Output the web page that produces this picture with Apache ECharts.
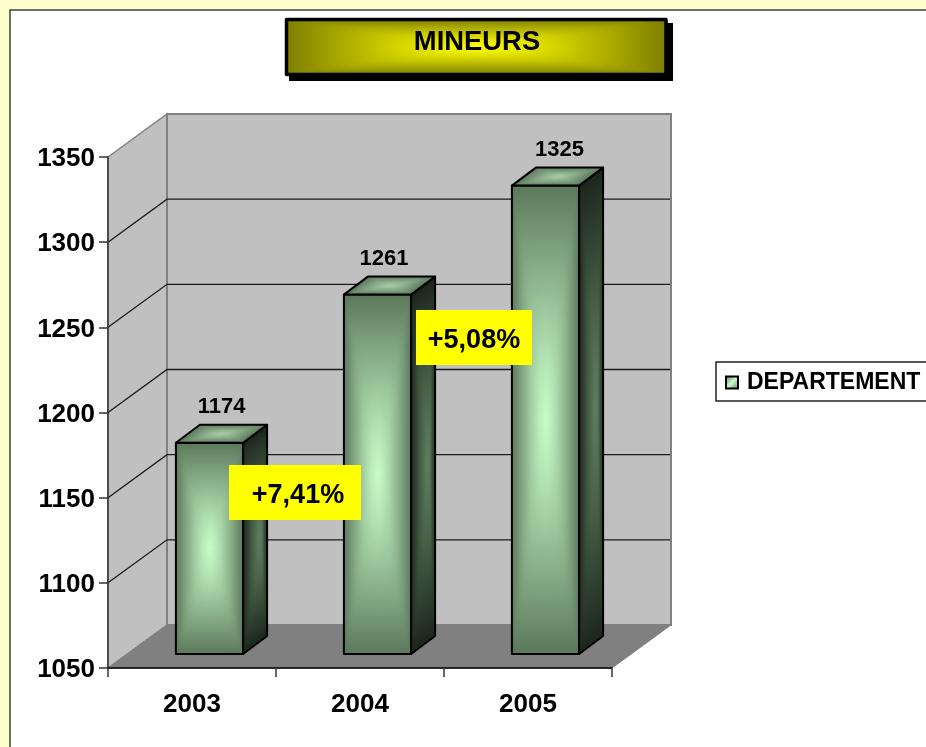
<!DOCTYPE html>
<html><head><meta charset="utf-8">
<style>html,body{margin:0;padding:0;background:#FFFFCC;overflow:hidden}#c{width:926px;height:747px}</style>
<script src="https://cdn.jsdelivr.net/npm/echarts@6/dist/echarts.min.js"></script>
</head><body><div id="c"></div>
<script>
const categories = ['2003', '2004', '2005'];
const seriesName = 'DEPARTEMENT';
const values = [1174, 1261, 1325];
const yTicks = [1050, 1100, 1150, 1200, 1250, 1300, 1350];
const chartTitle = 'MINEURS';
const notes = ['+7,41%', '+5,08%'];

const FONT = '"Liberation Sans", Arial, sans-serif';
const G = echarts.graphic;
const WALL = {dx: 59, dy: -43};
const BAR = {ox: 17.5, oy: -14, dx: 24, dy: -18, ratio: 0.4};
const LABEL_SHIFT = [12, 6.5, 14];

function hex(c){return [1,3,5].map(i=>parseInt(c.substr(i,2),16));}
function mix(a,b,t){const x=hex(a),y=hex(b);return 'rgb('+x.map((v,i)=>Math.round(v+(y[i]-v)*t)).join(',')+')';}
const lerp = (a,b,t)=>[a[0]+(b[0]-a[0])*t, a[1]+(b[1]-a[1])*t];
const P = 5, NORM = Math.pow(2, 1/P);
function softT(tx, ty){
  if (tx<=0||ty<=0) return 0;
  return Math.min(1, NORM*Math.pow(Math.pow(tx,-P)+Math.pow(ty,-P), -1/P));
}
// Rectangular-path shading of a quad p[0..3] (u along p0->p1, v along p0->p3), built from soft strips
function face(p, edge, centre, fx, lineWidth, step) {
  fx = fx === undefined ? 0.5 : fx;
  step = step || 2;
  const out = [{type:'polygon', shape:{points:p}, style:{fill:mix(edge,centre,0.1)}, silent:true}];
  const vLen = Math.hypot(p[3][0]-p[0][0], p[3][1]-p[0][1]);
  const n = Math.max(6, Math.round(vLen/step));
  const vx = (p[3][0]-p[0][0])/vLen, vy = (p[3][1]-p[0][1])/vLen;
  const ux = p[1][0]-p[0][0], uy = p[1][1]-p[0][1];
  const along = ux*vx + uy*vy;
  const gx = ux-along*vx, gy = uy-along*vy;
  const N = 16;
  for (let j=0;j<n;j++){
    const v0=j/n, v1=Math.min(1,(j+1)/n+2/vLen), vm=(j+0.5)/n;
    const ty = 1-Math.abs(2*vm-1);
    const a=lerp(p[0],p[3],v0), b=lerp(p[1],p[2],v0), c=lerp(p[1],p[2],v1), d=lerp(p[0],p[3],v1);
    const stops=[];
    for (let i=0;i<=N;i++){
      const u=i/N;
      const tx = u<fx ? u/fx : (1-u)/(1-fx);
      stops.push({offset:u, color:mix(edge,centre,softT(tx,ty))});
    }
    const s=lerp(p[0],p[3],vm);
    const grad=new G.LinearGradient(s[0],s[1],s[0]+gx,s[1]+gy,stops,true);
    out.push({type:'polygon', shape:{points:[a,b,c,d]}, style:{fill:grad}, silent:true});
  }
  out.push({type:'polygon', shape:{points:p}, style:{fill:'none', stroke:'#000', lineWidth:lineWidth||2, lineJoin:'round'}, silent:true});
  return out;
}

function renderWalls(params, api) {
  const tl = api.coord([0, yTicks[yTicks.length-1]]);
  const bl = api.coord([0, yTicks[0]]);
  const u = api.size([1,0])[0];
  const w = u*categories.length;
  const x0 = bl[0]-u/2, x1 = x0+w, top = tl[1], bot = bl[1];
  const d = WALL;
  const wall = '#C0C0C0', edge = '#808080';
  return {type:'group', children:[
    {type:'polygon', shape:{points:[[x0,top],[x0+d.dx,top+d.dy],[x0+d.dx,bot+d.dy],[x0,bot]]}, style:{fill:wall, stroke:edge, lineWidth:1.5}},
    {type:'rect', shape:{x:x0+d.dx,y:top+d.dy,width:w,height:bot-top}, style:{fill:wall, stroke:edge, lineWidth:2}},
    {type:'polygon', shape:{points:[[x0,bot],[x0+d.dx,bot+d.dy],[x1+d.dx,bot+d.dy],[x1,bot]]}, style:{fill:'#808080', stroke:'#808080', lineWidth:1}}
  ]};
}
function renderGrid(params, api) {
  const v = api.value(0);
  const p = api.coord([0, v]);
  const u = api.size([1,0])[0];
  const x0 = p[0]-u/2, y = p[1], d = WALL;
  return {type:'group', children:[
    {type:'polyline', shape:{points:[[x0,y],[x0+d.dx,y+d.dy],[x0+d.dx+u*categories.length-1,y+d.dy]]},
     style:{fill:'none', stroke:'#1a1a1a', lineWidth:1.3}}
  ]};
}
function renderBar(params, api) {
  const idx = api.value(0), v = api.value(1);
  const t = api.coord([idx, v]), b = api.coord([idx, yTicks[0]]);
  const bw = api.size([1,0])[0]*BAR.ratio;
  const xl = t[0]-bw/2+BAR.ox, xr = xl+bw, yt = t[1]+BAR.oy, yb = b[1]+BAR.oy;
  const dx = BAR.dx, dy = BAR.dy;
  const front = [[xl,yt],[xr,yt],[xr,yb],[xl,yb]];
  const side = [[xr,yt],[xr+dx,yt+dy],[xr+dx,yb+dy],[xr,yb]];
  const top = [[xl,yt],[xr,yt],[xr+dx,yt+dy],[xl+dx,yt+dy]];
  return {type:'group', children:[
    ...face(front, '#5C785C', '#C8FCC8'),
    ...face(side, '#1C261C', '#608060', 0.72),
    ...face(top, '#5C785C', '#A6CCA6', 0.5, 2, 1),
    {type:'text', silent:true, style:{text:String(v), x:(xl+xr)/2+LABEL_SHIFT[idx], y:yt-36, align:'center', verticalAlign:'middle',
      font:'bold 22px '+FONT, fill:'#000'}}
  ]};
}
function titleFace(){
  const x=286.5,y=19.5,w=379.5,h=55;
  const kids = face([[x,y],[x+w,y],[x+w,y+h],[x,y+h]], '#7F7F00', '#FFFF00', 0.5, 3.5, 1);
  kids.forEach(k=>{k.z=15;});
  return {type:'group', z:15, children:kids};
}
function noteBox(x,y,w,h,text,tx){
  return {type:'group', z:12, children:[
    {type:'rect', z:12, shape:{x,y,width:w,height:h}, style:{fill:'#FFFF00'}},
    {type:'text', z:13, style:{text, x:x+w/2+tx, y:y+h/2+3, align:'center', verticalAlign:'middle', font:'bold 27px '+FONT, fill:'#000'}}
  ]};
}

const chart = echarts.init(document.getElementById('c'), null, {renderer:'canvas'});
chart.setOption({
  animation:false,
  backgroundColor:'#FFFFCC',
  title:{text:chartTitle, left:477, top:29, textAlign:'center', padding:0, z:20,
    textStyle:{fontFamily:FONT, fontWeight:'bold', fontSize:27.4, color:'#000'}},
  grid:{left:108, right:314, top:157, bottom:79},
  xAxis:{type:'category', data:categories, boundaryGap:true,
    axisLine:{show:true, lineStyle:{color:'#000', width:1.5}},
    axisTick:{show:true, length:9, alignWithLabel:false, lineStyle:{color:'#333', width:1.5}},
    axisLabel:{color:'#000', fontFamily:FONT, fontWeight:'bold', fontSize:26, margin:24}},
  yAxis:{type:'value', min:yTicks[0], max:yTicks[yTicks.length-1], interval:50,
    axisLine:{show:true, lineStyle:{color:'#333', width:1.5}},
    axisTick:{show:true, length:9, lineStyle:{color:'#333', width:1.5}},
    splitLine:{show:false},
    axisLabel:{color:'#000', fontFamily:FONT, fontWeight:'bold', fontSize:26, margin:13, verticalAlign:'top', lineHeight:4, formatter:v=>String(v)}},
  legend:{show:true, left:716, top:362, orient:'horizontal', data:[{name:seriesName, icon:'rect',
      itemStyle:{color:new G.LinearGradient(0,0,1,1,[{offset:0,color:'#5C785C'},{offset:0.5,color:'#C8FCC8'},{offset:1,color:'#5C785C'}]), borderColor:'#000', borderWidth:2}}],
    itemWidth:12, itemHeight:12, itemGap:0, padding:[9,30,7,9], backgroundColor:'#fff', borderColor:'#222', borderWidth:1.5,
    textStyle:{fontFamily:FONT, fontWeight:'bold', fontSize:23, color:'#000', padding:[3,0,0,4]}, selectedMode:false},
  graphic:[
    {type:'rect', z:-20, silent:true, shape:{x:10,y:10,width:1100,height:1000}, style:{fill:'#fff', stroke:'#404040', lineWidth:1.5}},
    {type:'rect', z:14, silent:true, shape:{x:289,y:23,width:384,height:58}, style:{fill:'#000'}},
    titleFace(),
    noteBox(229,465,132,55,notes[0],3),
    noteBox(416,310,116,55,notes[1],0)
  ],
  series:[
    {type:'custom', name:'walls', z:-5, silent:true, clip:false, data:[[0]], renderItem:renderWalls, tooltip:{show:false}},
    {type:'custom', name:'grid', z:-4, silent:true, clip:false, data:yTicks.slice(1,-1).map(v=>[v]), encode:{x:-1,y:0}, renderItem:renderGrid},
    {type:'custom', name:seriesName, z:3, clip:false, itemStyle:{color:'#8FB98F'}, data:categories.map((c,i)=>[i,values[i]]), encode:{x:0,y:1}, renderItem:renderBar}
  ]
});
</script></body></html>
